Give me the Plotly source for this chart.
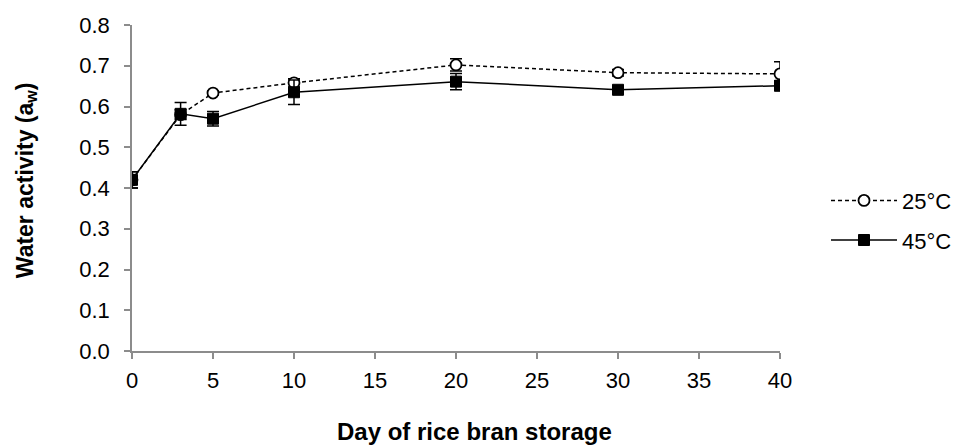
import plotly.graph_objects as go

days = [0, 3, 5, 10, 20, 30, 40]
aw_25 = [0.420, 0.580, 0.633, 0.658, 0.702, 0.683, 0.680]
err_25 = [0.020, 0.012, 0.005, 0.010, 0.015, 0.008, 0.030]
aw_45 = [0.420, 0.582, 0.570, 0.635, 0.661, 0.641, 0.651]
err_45 = [0.020, 0.028, 0.018, 0.030, 0.020, 0.006, 0.012]

x_ticks = [0, 5, 10, 15, 20, 25, 30, 35, 40]
y_ticks = [0.0, 0.1, 0.2, 0.3, 0.4, 0.5, 0.6, 0.7, 0.8]

x_title = "<b>Day of rice bran storage</b>"
y_title = "<b>Water activity (a<sub>w</sub>)</b>"

font_family = "Liberation Sans, Arial, sans-serif"

fig = go.Figure()
fig.add_trace(go.Scatter(
    x=days, y=aw_25, name="25°C", mode="lines+markers", legendgroup="a",
    line=dict(color="black", width=1.5, dash="4px,3px"),
    marker=dict(symbol="circle", size=11, color="white", line=dict(color="black", width=1.8)),
    error_y=dict(type="data", array=err_25, visible=True, color="black", thickness=1.5, width=6),
))
fig.add_trace(go.Scatter(
    x=days, y=aw_45, name="45°C", mode="lines+markers", legendgroup="b",
    line=dict(color="black", width=1.5),
    marker=dict(symbol="square", size=11, color="black", line=dict(color="black", width=1)),
    error_y=dict(type="data", array=err_45, visible=True, color="black", thickness=1.5, width=6),
))

fig.update_layout(
    width=962, height=445,
    margin=dict(l=124, r=190, t=17, b=102, autoexpand=False),
    plot_bgcolor="white", paper_bgcolor="white",
    font=dict(family=font_family, size=22, color="black"),
    legend=dict(x=1.071, y=0.40, yanchor="middle", xanchor="left",
                font=dict(size=22), bgcolor="rgba(0,0,0,0)", tracegroupgap=8,
                itemwidth=66, traceorder="grouped"),
    showlegend=True,
    annotations=[
        dict(text=x_title, xref="paper", yref="paper", x=0.528, y=-0.248,
             xanchor="center", yanchor="middle", showarrow=False, font=dict(size=24)),
        dict(text=y_title, xref="paper", yref="paper", x=-0.163, y=0.525,
             xanchor="center", yanchor="middle", textangle=-90, showarrow=False,
             font=dict(size=23)),
    ],
)
fig.update_xaxes(
    range=[0, 40], tickvals=x_ticks, ticktext=[str(v) for v in x_ticks],
    showline=True, linecolor="#8c8c8c", linewidth=1.5, showgrid=False, zeroline=False,
    ticks="outside", ticklen=6, tickcolor="#8c8c8c", tickwidth=1.5, automargin=False,
    tickfont=dict(size=22), ticklabelstandoff=3,
)
fig.update_yaxes(
    range=[0, 0.8], tickvals=y_ticks, ticktext=[f"{v:.1f}" for v in y_ticks],
    showline=True, linecolor="#8c8c8c", linewidth=1.5, showgrid=False, zeroline=False,
    ticks="outside", ticklen=6, tickcolor="#8c8c8c", tickwidth=1.5, automargin=False,
    tickfont=dict(size=22), ticklabelstandoff=10,
)

fig.write_html("out.html")
